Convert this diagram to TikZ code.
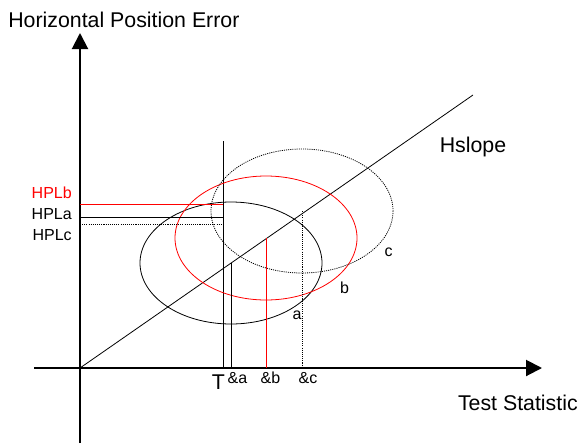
\documentclass[tikz,border=0pt]{standalone}
\usepackage{fontspec}
\setmainfont{Liberation Sans}
\usepackage{xcolor}
\usepackage{tikz}
\usetikzlibrary{arrows.meta, positioning, calc}
\definecolor{hplred}{RGB}{255,0,0}
\tikzset{
  axis/.style={line width=1.5pt, -{Triangle[length=12pt, width=12pt]}},
  thin/.style={line width=0.6pt},
  dots/.style={line width=0.6pt, dash pattern=on 0.8pt off 0.8pt},
  big/.style={font=\fontsize{16}{19}\selectfont, inner sep=0pt},
  small/.style={font=\fontsize{12}{14}\selectfont, inner sep=0pt}
}

\begin{document}
\begin{tikzpicture}[x=0.75pt, y=-0.75pt]
  \useasboundingbox (0,0) rectangle (581,443);
  % axes
  \coordinate (O) at (80,368);
  \coordinate (ybot) at (80,443);
  \coordinate (ytop) at (80,33);
  \coordinate (xleft) at (34,368);
  \coordinate (xright) at (542,368);
  \draw[axis] (ybot) -- (ytop);
  \draw[axis] (xleft) -- (xright);
  \node[big, anchor=base west] (ylab) at (8,27) {Horizontal Position Error};
  \node[big, anchor=base east] (xlab) at (578,410) {Test Statistic};
  % slope line
  \coordinate (hs) at (473,95);
  \draw[thin] (O) -- (hs);
  \node[big, anchor=base] (hslab) at (473,152) {Hslope};
  % threshold T
  \coordinate (ttop) at (223,141);
  \draw[thin] (ttop) -- (ttop |- O);
  \node[big, anchor=base] (tlab) at (218.5,389) {T};
  % error ellipses
  \coordinate (ca) at (231,263);
  \coordinate (cb) at (266,238);
  \coordinate (cc) at (302,211);
  \draw[thin] (ca) ellipse [x radius=91, y radius=61];
  \draw[thin, hplred] (cb) ellipse [x radius=91, y radius=62];
  \draw[dots] (cc) ellipse [x radius=91, y radius=62];
  \node[small, anchor=base] (la) at (297,319) {a};
  \node[small, anchor=base] (lb) at (344.5,293) {b};
  \node[small, anchor=base] (lc) at (388.5,256) {c};
  % drop lines to the axis
  \draw[thin] (ca) -- (ca |- O);
  \draw[thin, hplred] (cb) -- (cb |- O);
  \draw[dots] (cc) -- (cc |- O);
  \node[small, anchor=base] (da) at (237.5,383) {\&a};
  \node[small, anchor=base] (db) at (270.5,383) {\&b};
  \node[small, anchor=base] (dc) at (308,383) {\&c};
  % protection levels
  \coordinate (hplb) at (80,204);
  \coordinate (hpla) at (80,217);
  \coordinate (hplc) at (80,224);
  \draw[thin, hplred] (hplb) -- (hplb -| ttop);
  \draw[thin] (hpla) -- (hpla -| ttop);
  \draw[dots] (hplc) -- (hplc -| ttop);
  \node[small, anchor=base east, text=hplred] (hblab) at (72,198) {HPLb};
  \node[small, anchor=base east] (halab) at (72,219) {HPLa};
  \node[small, anchor=base east] (hclab) at (72,240) {HPLc};
\end{tikzpicture}
\end{document}
